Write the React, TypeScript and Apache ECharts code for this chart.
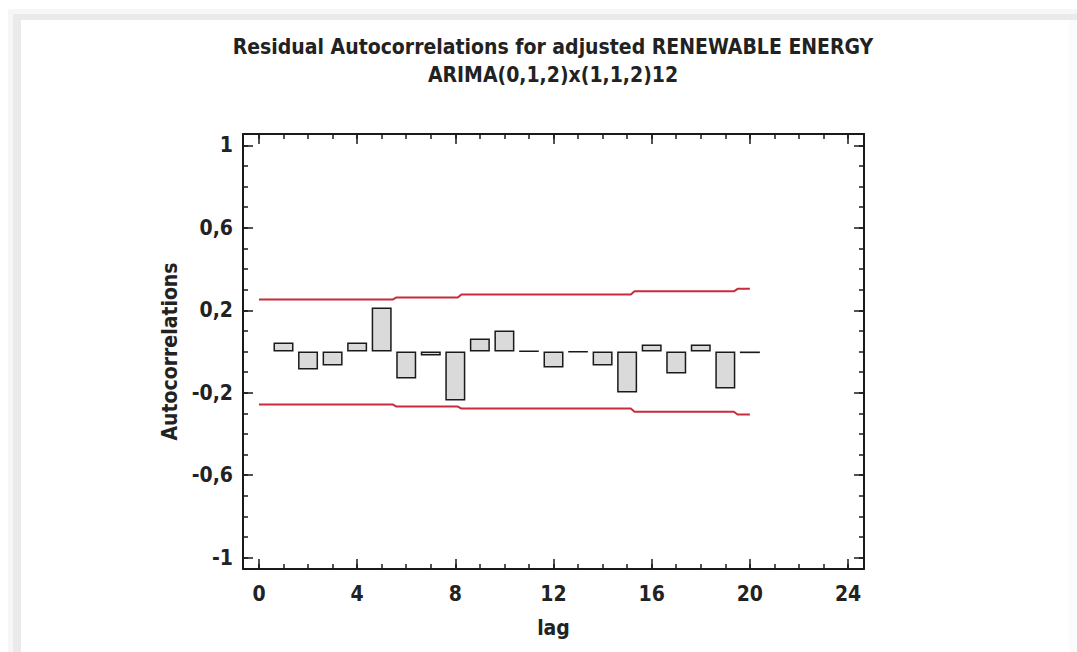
import React, { useEffect, useRef } from "react";
import * as echarts from "echarts";

// ---- data ----
const lags = [1, 2, 3, 4, 5, 6, 7, 8, 9, 10, 11, 12, 13, 14, 15, 16, 17, 18, 19, 20];
const autocorrelations = [
  0.044, -0.087, -0.068, 0.044, 0.214, -0.131, -0.019, -0.238, 0.063, 0.102,
  0.002, -0.078, -0.002, -0.068, -0.199, 0.034, -0.107, 0.034, -0.18, -0.008,
];
const limitLags = [0, 5.45, 5.6, 8.1, 8.25, 15.15, 15.3, 19.35, 19.5, 20];
const upperLimits = [0.252, 0.252, 0.262, 0.262, 0.277, 0.277, 0.292, 0.292, 0.304, 0.304];
const lowerLimits = [-0.257, -0.257, -0.267, -0.267, -0.277, -0.277, -0.292, -0.292, -0.306, -0.306];

const xMajorTicks = [0, 4, 8, 12, 16, 20, 24];
const xMinorTicks = [0, 1, 2, 3, 4, 5, 6, 7, 8, 9, 10, 11, 12, 13, 14, 15, 16, 17, 18, 19, 20, 21, 22, 23, 24];
const yMajorTicks = [-1, -0.6, -0.2, 0.2, 0.6, 1];
const yMinorTicks = [-1, -0.9, -0.8, -0.7, -0.6, -0.5, -0.4, -0.3, -0.2, -0.1, 0, 0.1, 0.2, 0.3, 0.4, 0.5, 0.6, 0.7, 0.8, 0.9, 1];

const titleLines = ["Residual Autocorrelations for adjusted RENEWABLE ENERGY", "ARIMA(0,1,2)x(1,1,2)12"];
const xName = "lag";
const yName = "Autocorrelations";

const FONT = '"Liberation Sans Narrow", "DejaVu Sans Condensed", "Arial Narrow", sans-serif';
const INK = "#1a1a1a";

const X_MIN = -0.65;
const X_MAX = 24.65;
const Y_MIN = -1.055;
const Y_MAX = 1.055;

function xAxisDef(position: string, major: boolean, withLine: boolean, withLabel: boolean) {
  return {
    type: "value",
    position,
    min: X_MIN,
    max: X_MAX,
    splitLine: { show: false },
    axisLine: { show: withLine, onZero: false, lineStyle: { color: INK, width: 2 } },
    axisTick: {
      show: true,
      inside: true,
      length: major ? 10 : 5,
      customValues: major ? xMajorTicks : xMinorTicks,
      lineStyle: { color: INK, width: 1.5 },
    },
    axisLabel: withLabel
      ? {
          show: true,
          customValues: xMajorTicks,
          margin: 14,
          fontFamily: FONT,
          fontWeight: "bold",
          fontSize: 21,
          color: "#222",
        }
      : { show: false },
    ...(withLabel
      ? {
          name: xName,
          nameLocation: "middle",
          nameGap: 48,
          nameTextStyle: { fontFamily: FONT, fontWeight: "bold", fontSize: 21, color: "#222" },
        }
      : {}),
  };
}

function yAxisDef(position: string, major: boolean, withLine: boolean, withLabel: boolean) {
  return {
    type: "value",
    position,
    min: Y_MIN,
    max: Y_MAX,
    splitLine: { show: false },
    axisLine: { show: withLine, onZero: false, lineStyle: { color: INK, width: 2 } },
    axisTick: {
      show: true,
      inside: true,
      length: major ? 10 : 5,
      customValues: major ? yMajorTicks : yMinorTicks,
      lineStyle: { color: INK, width: 1.5 },
    },
    axisLabel: withLabel
      ? {
          show: true,
          customValues: yMajorTicks,
          margin: 10,
          fontFamily: FONT,
          fontWeight: "bold",
          fontSize: 21,
          color: "#222",
          formatter: (v: number) => String(v).replace(".", ","),
        }
      : { show: false },
    ...(withLabel
      ? {
          name: yName,
          nameLocation: "middle",
          nameGap: 61,
          nameTextStyle: { fontFamily: FONT, fontWeight: "bold", fontSize: 21, color: "#222" },
        }
      : {}),
  };
}

export default function App() {
  const ref = useRef<HTMLDivElement>(null);

  useEffect(() => {
    document.body.style.margin = "0";
    if (!ref.current) return;
    const chart = echarts.init(ref.current, null, { renderer: "svg" });
    const option = {
      animation: false,
      backgroundColor: "transparent",
      graphic: titleLines.map((t, i) => ({
        type: "text",
        x: 553,
        y: 47 + i * 28,
        style: {
          text: t,
          fontFamily: FONT,
          fontWeight: "bold",
          fontSize: 21,
          fill: "#222",
          textAlign: "center",
          textVerticalAlign: "middle",
        },
      })),
      grid: { left: 243, top: 134, width: 621, height: 435 },
      xAxis: [
        xAxisDef("bottom", true, true, true),
        xAxisDef("bottom", false, false, false),
        xAxisDef("top", true, true, false),
        xAxisDef("top", false, false, false),
      ],
      yAxis: [
        yAxisDef("left", true, true, true),
        yAxisDef("left", false, false, false),
        yAxisDef("right", true, true, false),
        yAxisDef("right", false, false, false),
      ],
      series: [
        {
          type: "bar",
          xAxisIndex: 0,
          yAxisIndex: 0,
          barWidth: 20,
          data: lags.map((l, i) => [l, autocorrelations[i]]),
          itemStyle: { color: "#dadada", borderColor: INK, borderWidth: 1.5 },
          z: 3,
        },
        {
          type: "line",
          xAxisIndex: 0,
          yAxisIndex: 0,
          showSymbol: false,
          data: limitLags.map((l, i) => [l, upperLimits[i]]),
          lineStyle: { color: "#c62c3c", width: 2 },
          z: 4,
        },
        {
          type: "line",
          xAxisIndex: 0,
          yAxisIndex: 0,
          showSymbol: false,
          data: limitLags.map((l, i) => [l, lowerLimits[i]]),
          lineStyle: { color: "#c62c3c", width: 2 },
          z: 4,
        },
      ],
    };
    chart.setOption(option as any);
    return () => chart.dispose();
  }, []);

  return (
    <div style={{ position: "absolute", left: 0, top: 0, width: 1077, height: 652, background: "#ffffff", overflow: "hidden" }}>
      <div style={{ position: "absolute", left: 8, top: 9, width: 1069, height: 643, background: "#f6f6f6" }} />
      <div style={{ position: "absolute", left: 13, top: 14, width: 1064, height: 638, background: "#eaeaea" }} />
      <div style={{ position: "absolute", left: 21, top: 20, width: 1048, height: 632, background: "#ffffff" }} />
      <div style={{ position: "absolute", left: 1069, top: 20, width: 8, height: 632, background: "#fbfbfb" }} />
      <div ref={ref} style={{ position: "absolute", left: 0, top: 0, width: 1077, height: 652 }} />
    </div>
  );
}
